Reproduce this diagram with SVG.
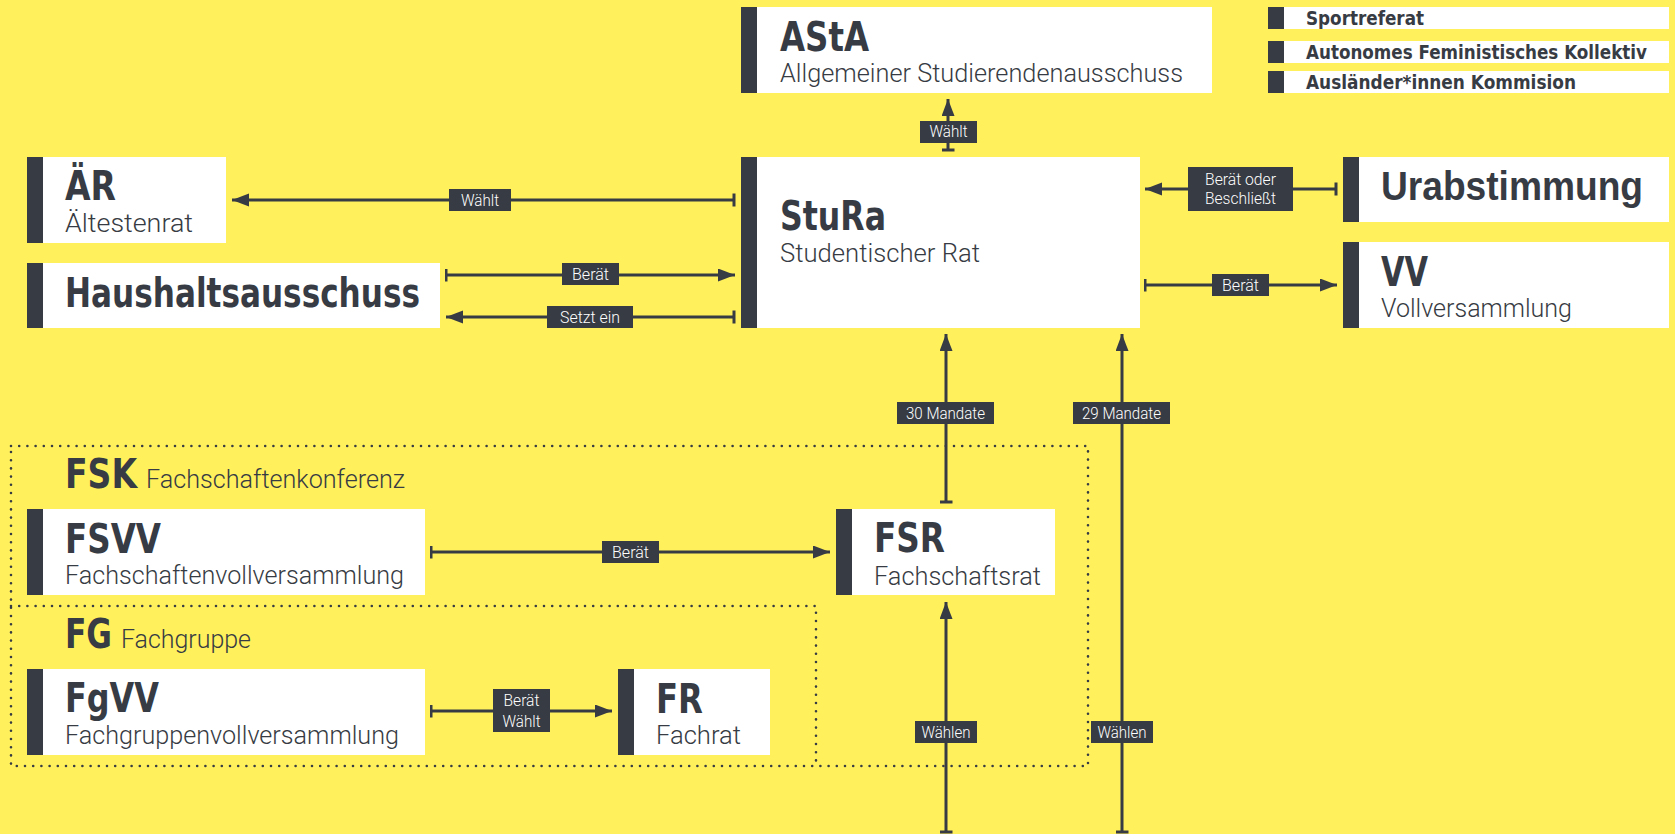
<svg xmlns="http://www.w3.org/2000/svg" width="1675" height="834" viewBox="0 0 1675 834">
<defs>
<style>
.bg{fill:#FFF05C}
.box{fill:#FFFFFF}
.bar{fill:#373B43}
.t{font-family:"Liberation Sans Narrow","DejaVu Sans Condensed","Liberation Sans",sans-serif;font-weight:bold;font-size:41px;fill:#373B43}
.t2{font-family:"Liberation Sans",Arial,sans-serif;font-weight:bold;font-size:40px;fill:#373B43}
.s{font-family:Roboto,"Open Sans","Liberation Sans",sans-serif;font-weight:300;font-size:26px;fill:#373B43}
.side{font-family:"Liberation Sans Narrow","DejaVu Sans Condensed","Liberation Sans",sans-serif;font-weight:bold;font-size:20px;fill:#373B43}
.ln{stroke:#373B43;stroke-width:3;fill:none;marker-start:url(#tick);marker-end:url(#arr)}
.lb{fill:#373B43}
.lt{font-family:Roboto,"Open Sans","Liberation Sans",sans-serif;font-weight:300;font-size:16px;fill:#FFFFFF;text-anchor:middle}
.dot{stroke:#373B43;stroke-width:2.6;stroke-linecap:round;stroke-dasharray:0 8.2;fill:none}
</style>
<marker id="arr" markerUnits="userSpaceOnUse" markerWidth="18" markerHeight="14" refX="17" refY="6.5" orient="auto">
<path d="M0,0 L17,6.5 L0,13 z" fill="#373B43"/>
</marker>
<marker id="tick" markerUnits="userSpaceOnUse" markerWidth="4" markerHeight="14" refX="1.5" refY="6.5" orient="auto">
<rect x="0" y="0" width="3" height="13" fill="#373B43"/>
</marker>
</defs>
<rect class="bg" x="0" y="0" width="1675" height="834"/>

<g id="containers">
<path class="dot" d="M11,446 H1088 V766 H11 Z"/>
<path class="dot" d="M11,606 H816 V766"/>
<text class="t" x="65" y="488" textLength="72" lengthAdjust="spacingAndGlyphs">FSK</text>
<text class="s" x="146" y="488" font-size="27" textLength="259" lengthAdjust="spacingAndGlyphs">Fachschaftenkonferenz</text>
<text class="t" x="65" y="648" textLength="47" lengthAdjust="spacingAndGlyphs">FG</text>
<text class="s" x="121" y="648" font-size="27" textLength="130" lengthAdjust="spacingAndGlyphs">Fachgruppe</text>
</g>

<g id="node-asta">
<rect class="box" x="741" y="7" width="471" height="86"/>
<rect class="bar" x="741" y="7" width="16" height="86"/>
<text class="t" x="780" y="51" textLength="89" lengthAdjust="spacingAndGlyphs">AStA</text>
<text class="s" x="780" y="82" textLength="403" lengthAdjust="spacingAndGlyphs">Allgemeiner Studierendenausschuss</text>
</g>

<g id="node-sport">
<rect class="box" x="1268" y="7" width="401" height="22"/>
<rect class="bar" x="1268" y="7" width="16" height="22"/>
<text class="side" x="1306" y="25" textLength="118" lengthAdjust="spacingAndGlyphs">Sportreferat</text>
</g>
<g id="node-afk">
<rect class="box" x="1268" y="41" width="401" height="22"/>
<rect class="bar" x="1268" y="41" width="16" height="22"/>
<text class="side" x="1306" y="59" textLength="341" lengthAdjust="spacingAndGlyphs">Autonomes Feministisches Kollektiv</text>
</g>
<g id="node-ak">
<rect class="box" x="1268" y="71" width="401" height="22"/>
<rect class="bar" x="1268" y="71" width="16" height="22"/>
<text class="side" x="1306" y="89" textLength="270" lengthAdjust="spacingAndGlyphs">Ausländer*innen Kommision</text>
</g>

<g id="node-aer">
<rect class="box" x="27" y="157" width="199" height="86"/>
<rect class="bar" x="27" y="157" width="16" height="86"/>
<text class="t" x="65" y="200" textLength="51" lengthAdjust="spacingAndGlyphs">ÄR</text>
<text class="s" x="65" y="232" textLength="128" lengthAdjust="spacingAndGlyphs">Ältestenrat</text>
</g>

<g id="node-haushalt">
<rect class="box" x="27" y="263" width="413" height="65"/>
<rect class="bar" x="27" y="263" width="16" height="65"/>
<text class="t" x="65" y="307" textLength="355" lengthAdjust="spacingAndGlyphs">Haushaltsausschuss</text>
</g>

<g id="node-stura">
<rect class="box" x="741" y="157" width="399" height="171"/>
<rect class="bar" x="741" y="157" width="16" height="171"/>
<text class="t" x="780" y="230" textLength="106" lengthAdjust="spacingAndGlyphs">StuRa</text>
<text class="s" x="780" y="262" textLength="200" lengthAdjust="spacingAndGlyphs">Studentischer Rat</text>
</g>

<g id="node-urabstimmung">
<rect class="box" x="1343" y="157" width="326" height="65"/>
<rect class="bar" x="1343" y="157" width="16" height="65"/>
<text class="t2" x="1381" y="200" textLength="262" lengthAdjust="spacingAndGlyphs">Urabstimmung</text>
</g>

<g id="node-vv">
<rect class="box" x="1343" y="242" width="326" height="86"/>
<rect class="bar" x="1343" y="242" width="16" height="86"/>
<text class="t" x="1381" y="286" textLength="47" lengthAdjust="spacingAndGlyphs">VV</text>
<text class="s" x="1381" y="317" textLength="191" lengthAdjust="spacingAndGlyphs">Vollversammlung</text>
</g>

<g id="node-fsvv">
<rect class="box" x="27" y="509" width="398" height="86"/>
<rect class="bar" x="27" y="509" width="16" height="86"/>
<text class="t" x="65" y="553" textLength="96" lengthAdjust="spacingAndGlyphs">FSVV</text>
<text class="s" x="65" y="584" textLength="339" lengthAdjust="spacingAndGlyphs">Fachschaftenvollversammlung</text>
</g>

<g id="node-fsr">
<rect class="box" x="836" y="509" width="219" height="86"/>
<rect class="bar" x="836" y="509" width="16" height="86"/>
<text class="t" x="874" y="552" textLength="71" lengthAdjust="spacingAndGlyphs">FSR</text>
<text class="s" x="874" y="585" textLength="167" lengthAdjust="spacingAndGlyphs">Fachschaftsrat</text>
</g>

<g id="node-fgvv">
<rect class="box" x="27" y="669" width="398" height="86"/>
<rect class="bar" x="27" y="669" width="16" height="86"/>
<text class="t" x="65" y="712" textLength="94" lengthAdjust="spacingAndGlyphs">FgVV</text>
<text class="s" x="65" y="744" textLength="334" lengthAdjust="spacingAndGlyphs">Fachgruppenvollversammlung</text>
</g>

<g id="node-fr">
<rect class="box" x="618" y="669" width="152" height="86"/>
<rect class="bar" x="618" y="669" width="16" height="86"/>
<text class="t" x="656" y="713" textLength="47" lengthAdjust="spacingAndGlyphs">FR</text>
<text class="s" x="656" y="744" textLength="85" lengthAdjust="spacingAndGlyphs">Fachrat</text>
</g>

<g id="connectors">
<line class="ln" x1="948" y1="150" x2="948" y2="99"/>
<rect class="lb" x="920" y="121" width="57" height="22"/>
<text class="lt" x="948.5" y="137" textLength="38" lengthAdjust="spacingAndGlyphs">Wählt</text>

<line class="ln" x1="734" y1="200" x2="232" y2="200"/>
<rect class="lb" x="449" y="189" width="62" height="22"/>
<text class="lt" x="480" y="206" textLength="38" lengthAdjust="spacingAndGlyphs">Wählt</text>

<line class="ln" x1="446" y1="275" x2="735" y2="275"/>
<rect class="lb" x="562" y="263" width="57" height="22"/>
<text class="lt" x="590.5" y="280" textLength="37" lengthAdjust="spacingAndGlyphs">Berät</text>

<line class="ln" x1="734" y1="317" x2="446" y2="317"/>
<rect class="lb" x="547" y="306" width="86" height="22"/>
<text class="lt" x="590" y="323" textLength="60" lengthAdjust="spacingAndGlyphs">Setzt ein</text>

<line class="ln" x1="1336" y1="189" x2="1145" y2="189"/>
<rect class="lb" x="1188" y="167" width="105" height="44"/>
<text class="lt" x="1240.5" y="185" textLength="71" lengthAdjust="spacingAndGlyphs">Berät oder</text>
<text class="lt" x="1240.5" y="204" textLength="71" lengthAdjust="spacingAndGlyphs">Beschließt</text>

<line class="ln" x1="1145" y1="285" x2="1337" y2="285"/>
<rect class="lb" x="1212" y="274" width="57" height="22"/>
<text class="lt" x="1240.5" y="291" textLength="37" lengthAdjust="spacingAndGlyphs">Berät</text>

<line class="ln" x1="946" y1="502" x2="946" y2="334"/>
<rect class="lb" x="897" y="402" width="97" height="22"/>
<text class="lt" x="945.5" y="419" textLength="79" lengthAdjust="spacingAndGlyphs">30 Mandate</text>

<line class="ln" x1="946" y1="832" x2="946" y2="602"/>
<rect class="lb" x="915" y="721" width="62" height="22"/>
<text class="lt" x="946" y="738" textLength="49" lengthAdjust="spacingAndGlyphs">Wählen</text>

<line class="ln" x1="1122" y1="832" x2="1122" y2="334"/>
<rect class="lb" x="1073" y="402" width="97" height="22"/>
<text class="lt" x="1121.5" y="419" textLength="79" lengthAdjust="spacingAndGlyphs">29 Mandate</text>
<rect class="lb" x="1091" y="721" width="62" height="22"/>
<text class="lt" x="1122" y="738" textLength="49" lengthAdjust="spacingAndGlyphs">Wählen</text>

<line class="ln" x1="431" y1="552" x2="830" y2="552"/>
<rect class="lb" x="602" y="541" width="57" height="22"/>
<text class="lt" x="630.5" y="558" textLength="37" lengthAdjust="spacingAndGlyphs">Berät</text>

<line class="ln" x1="431" y1="711" x2="612" y2="711"/>
<rect class="lb" x="493" y="689" width="57" height="43"/>
<text class="lt" x="521.5" y="706" textLength="36" lengthAdjust="spacingAndGlyphs">Berät</text>
<text class="lt" x="521.5" y="727" textLength="38" lengthAdjust="spacingAndGlyphs">Wählt</text>
</g>
</svg>
